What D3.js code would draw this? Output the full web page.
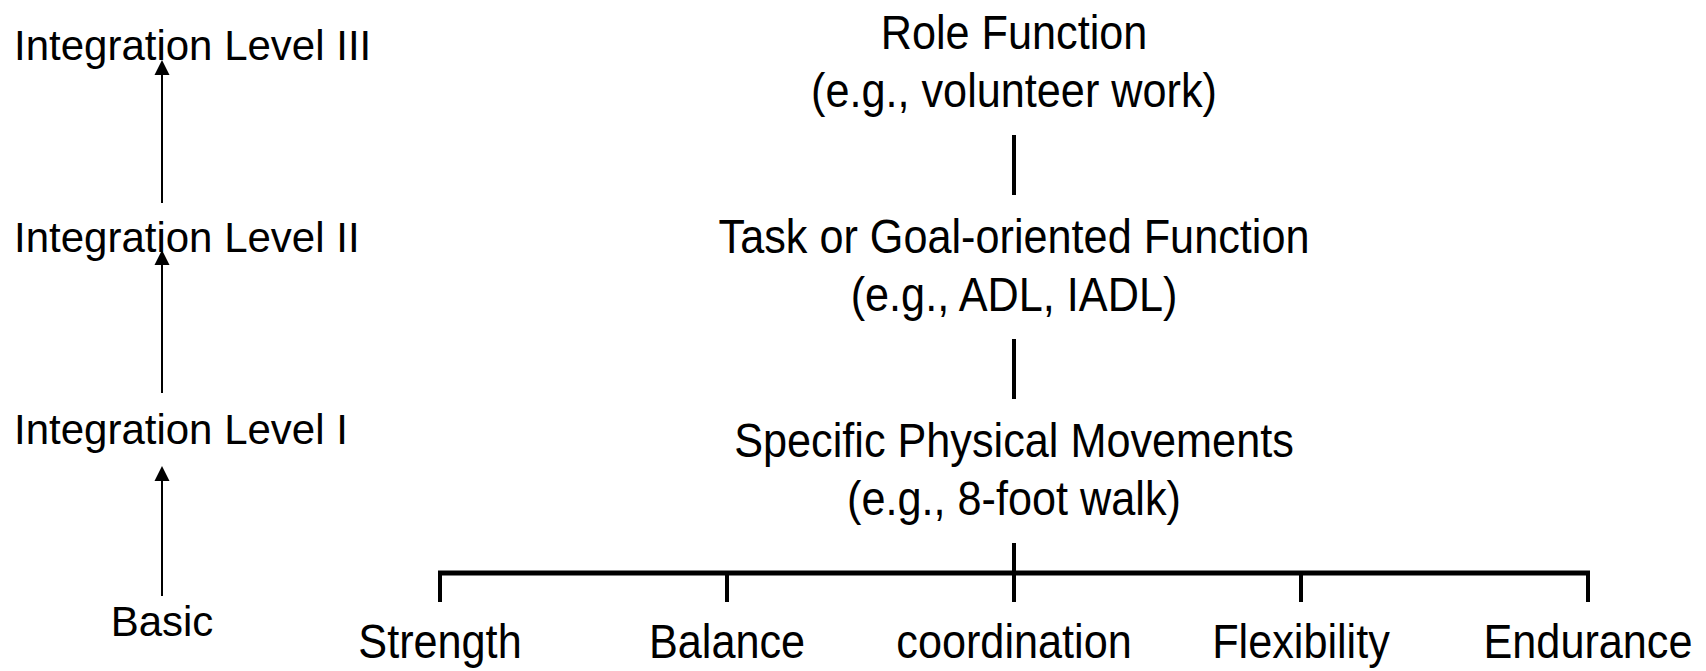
<!DOCTYPE html>
<html>
<head>
<meta charset="utf-8">
<script src="https://cdn.jsdelivr.net/npm/d3@7"></script>
<style>
  html, body { margin: 0; padding: 0; background: #fff; }
  svg { display: block; }
  text { font-family: "Liberation Sans", Arial, sans-serif; fill: #000; }
</style>
</head>
<body>
<script>
const width = 1706;
const height = 671;

// integration levels on the left, top to bottom
const levels = ['Integration Level III', 'Integration Level II', 'Integration Level I', 'Basic'];

// function hierarchy in the middle, top to bottom
const functionTitles = ['Role Function', 'Task or Goal-oriented Function', 'Specific Physical Movements'];
const functionExamples = ['(e.g., volunteer work)', '(e.g., ADL, IADL)', '(e.g., 8-foot walk)'];

// basic components under the bracket
const components = ['Strength', 'Balance', 'coordination', 'Flexibility', 'Endurance'];

const svg = d3.select('body')
    .append('svg')
    .attr('width', width)
    .attr('height', height);

svg.append('rect').attr('width', width).attr('height', height).attr('fill', '#fff');

const yLevel = d3.scalePoint().domain(levels).range([60, 636]);
const yRow = d3.scalePoint().domain(functionTitles).range([49, 457]);
const xComp = d3.scalePoint().domain(components).range([440, 1588]);
const cx = 1014;
const subGap = 58;     // title baseline -> example baseline
const narrow = '"Liberation Sans Narrow", "Liberation Sans", Arial, sans-serif';

// measure in the regular face, then draw in the narrow one at k of that width
const condense = (sel, k) => sel.each(function () {
    const len = this.getComputedTextLength();
    d3.select(this)
        .style('font-family', narrow)
        .attr('textLength', len * k)
        .attr('lengthAdjust', 'spacingAndGlyphs');
});

// left column labels
svg.append('g')
    .selectAll('text')
    .data(levels)
    .enter()
    .append('text')
    .attr('x', d => d === 'Basic' ? 162 : 14)
    .attr('y', d => yLevel(d))
    .attr('text-anchor', d => d === 'Basic' ? 'middle' : 'start')
    .attr('font-size', 42)
    .text(d => d);

// arrows going up from each level to the next one
const arrowBottom = [49, 51, 40];
const arrowTip = [0, -2, 22];
const arrows = d3.range(levels.length - 1).map(i => ({
    y1: yLevel(levels[i + 1]) - arrowBottom[i],
    y2: yLevel(levels[i]) + arrowTip[i]
}));

const ag = svg.append('g');
ag.selectAll('line')
    .data(arrows)
    .enter()
    .append('line')
    .attr('x1', 162)
    .attr('x2', 162)
    .attr('y1', d => d.y1)
    .attr('y2', d => d.y2 + 12)
    .attr('stroke', '#000')
    .attr('stroke-width', 2);

ag.selectAll('path')
    .data(arrows)
    .enter()
    .append('path')
    .attr('d', d => `M162,${d.y2} L169.5,${d.y2 + 15} L154.5,${d.y2 + 15} Z`)
    .attr('fill', '#000');

// middle column: titles and examples
const mg = svg.append('g').attr('font-size', 49).attr('text-anchor', 'middle');

mg.selectAll('text.title')
    .data(functionTitles)
    .enter()
    .append('text')
    .attr('class', 'title')
    .attr('x', cx)
    .attr('y', d => yRow(d))
    .text(d => d)
    .call(condense, 0.882);

mg.selectAll('text.example')
    .data(functionExamples)
    .enter()
    .append('text')
    .attr('class', 'example')
    .attr('x', cx)
    .attr('y', (d, i) => yRow(functionTitles[i]) + subGap)
    .text(d => d)
    .call(condense, 0.882);

// vertical connectors between the boxes
const bracketY = 573;
const connectors = functionTitles.map((d, i) => ({
    y1: yRow(d) + subGap + 28,
    y2: i < functionTitles.length - 1 ? yRow(functionTitles[i + 1]) - 58 : bracketY
}));

svg.append('g')
    .selectAll('line')
    .data(connectors)
    .enter()
    .append('line')
    .attr('x1', cx)
    .attr('x2', cx)
    .attr('y1', d => d.y1)
    .attr('y2', d => d.y2)
    .attr('stroke', '#000')
    .attr('stroke-width', 4);

// bracket over the components
const bg = svg.append('g').attr('stroke', '#000').attr('fill', 'none');
bg.append('line')
    .attr('x1', xComp(components[0]) - 2)
    .attr('x2', xComp(components[components.length - 1]) + 2)
    .attr('y1', bracketY)
    .attr('y2', bracketY)
    .attr('stroke-width', 5);

bg.selectAll('line.tick')
    .data(components)
    .enter()
    .append('line')
    .attr('class', 'tick')
    .attr('x1', d => xComp(d))
    .attr('x2', d => xComp(d))
    .attr('y1', bracketY)
    .attr('y2', 602)
    .attr('stroke-width', 4);

// component labels, each under its tick
svg.append('g')
    .attr('font-size', 48)
    .attr('text-anchor', 'middle')
    .selectAll('text')
    .data(components)
    .enter()
    .append('text')
    .attr('x', d => xComp(d))
    .attr('y', 658)
    .text(d => d)
    .call(condense, 0.9);
</script>
</body>
</html>
